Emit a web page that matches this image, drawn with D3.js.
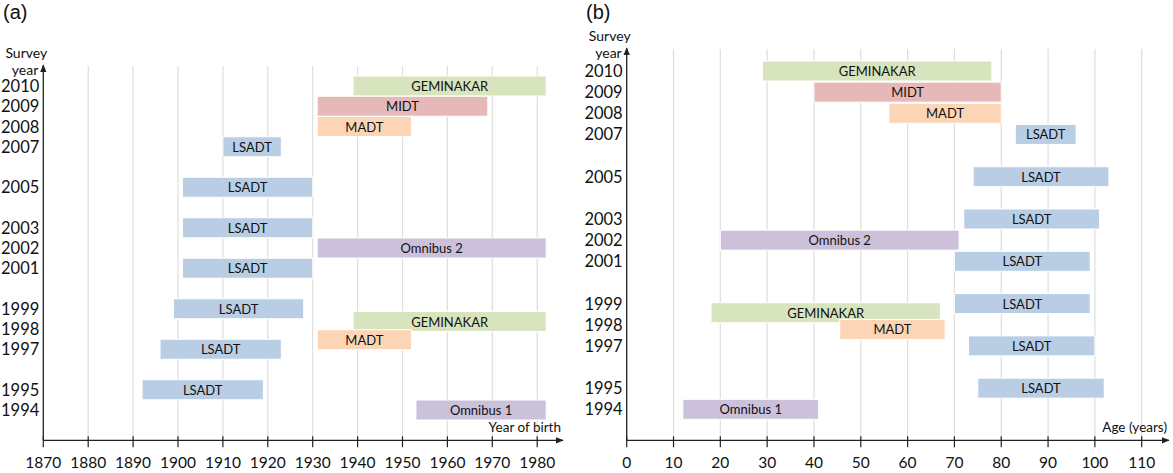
<!DOCTYPE html>
<html>
<head>
<meta charset="utf-8">
<script src="https://cdn.jsdelivr.net/npm/d3@7"></script>
<style>
  body { margin: 0; background: #fff; }
  svg text { font-family: Lato, "Open Sans", sans-serif; fill: #111; }
</style>
</head>
<body>
<div class="chart"></div>
<script>
// survey bars, one entry per bar
var surveys    = ["GEMINAKAR", "MIDT", "MADT", "LSADT", "LSADT", "LSADT", "Omnibus 2", "LSADT", "LSADT", "GEMINAKAR", "MADT", "LSADT", "LSADT", "Omnibus 1"];
var surveyYear = [2010, 2009, 2008, 2007, 2005, 2003, 2002, 2001, 1999, 1998, 1997, 1997, 1995, 1994];
var birthFrom  = [1939, 1931, 1931, 1910, 1901, 1901, 1931, 1901, 1899, 1939, 1931, 1896, 1892, 1953];
var birthTo    = [1982, 1969, 1952, 1923, 1930, 1930, 1982, 1930, 1928, 1982, 1952, 1923, 1919, 1982];
var ageFrom    = [29, 40, 56, 83, 74, 72, 20, 70, 70, 18, 45.5, 73, 75, 12];
var ageTo      = [78, 80, 80, 96, 103, 101, 71, 99, 99, 67, 68, 100, 102, 41];

var yearTicks  = [1994, 1995, 1997, 1998, 1999, 2001, 2002, 2003, 2005, 2007, 2008, 2009, 2010];
var birthTicks = [1870, 1880, 1890, 1900, 1910, 1920, 1930, 1940, 1950, 1960, 1970, 1980];
var ageTicks   = [0, 10, 20, 30, 40, 50, 60, 70, 80, 90, 100, 110];

var colors = {
  "LSADT": "#b9cde4",
  "GEMINAKAR": "#d7e4bd",
  "MIDT": "#e6b9b8",
  "MADT": "#fbd5b5",
  "Omnibus 1": "#ccc1da",
  "Omnibus 2": "#ccc1da"
};

var svg = d3.select(".chart").append("svg")
            .attr("width", 1173)
            .attr("height", 473);

var defs = svg.append("defs");
defs.append("marker")
    .attr("id", "arrow")
    .attr("viewBox", "0 0 10 10")
    .attr("refX", 9).attr("refY", 5)
    .attr("markerWidth", 6).attr("markerHeight", 6)
    .attr("orient", "auto-start-reverse")
    .append("path")
    .attr("d", "M0,1 L10,5 L0,9 z")
    .attr("fill", "#222");

var rows = surveys.map(function(s, i){
  return { name: s, year: surveyYear[i], b0: birthFrom[i], b1: birthTo[i], a0: ageFrom[i], a1: ageTo[i] };
});

function panel(opt){
  var g = svg.append("g");
  var x = d3.scaleLinear().domain(opt.xDomain).range(opt.xRange);
  var y = d3.scaleLinear().domain([1994, 2010]).range(opt.yRange);
  var x0 = opt.xRange[0], base = 440.3;

  // grid
  g.selectAll("line.grid").data(opt.ticks.slice(1)).enter()
   .append("line")
   .attr("x1", function(d){ return x(d); }).attr("x2", function(d){ return x(d); })
   .attr("y1", opt.top).attr("y2", base)
   .attr("stroke", "#dedede").attr("stroke-width", 1.2);

  // bars
  var bars = g.selectAll("g.bar").data(rows).enter().append("g");
  bars.append("rect")
      .attr("x", function(d){ return x(d[opt.k0]); })
      .attr("y", function(d, i){ return y(d.year) - 10 + (opt.nudge[i] || 0); })
      .attr("width", function(d){ return x(d[opt.k1]) - x(d[opt.k0]); })
      .attr("height", 20)
      .attr("fill", function(d){ return colors[d.name]; })
      .attr("stroke", "#fff").attr("stroke-width", 1);
  bars.append("text")
      .attr("x", function(d){ return (x(d[opt.k0]) + x(d[opt.k1])) / 2; })
      .attr("y", function(d, i){ return y(d.year) + 5 + (opt.nudge[i] || 0); })
      .attr("text-anchor", "middle")
      .attr("font-size", 13)
      .text(function(d){ return d.name; });

  // x axis
  g.append("line")
   .attr("x1", x0).attr("x2", opt.xEnd).attr("y1", base).attr("y2", base)
   .attr("stroke", "#222").attr("stroke-width", 1.3)
   .attr("marker-end", "url(#arrow)");
  g.selectAll("line.tick").data(opt.ticks).enter()
   .append("line")
   .attr("x1", function(d){ return x(d); }).attr("x2", function(d){ return x(d); })
   .attr("y1", base - 4).attr("y2", base + 7)
   .attr("stroke", "#222").attr("stroke-width", 1.2);
  g.selectAll("text.xt").data(opt.ticks).enter()
   .append("text")
   .attr("x", function(d){ return x(d); })
   .attr("y", 468)
   .attr("text-anchor", "middle")
   .attr("font-size", 15.5)
   .text(function(d){ return d; });
  g.append("text")
   .attr("x", opt.xEnd - 2).attr("y", base - 8)
   .attr("text-anchor", "end").attr("font-size", 13.5)
   .text(opt.xTitle);

  // y axis
  g.append("line")
   .attr("x1", x0).attr("x2", x0).attr("y1", base).attr("y2", opt.top - 1)
   .attr("stroke", "#222").attr("stroke-width", 1.3)
   .attr("marker-end", "url(#arrow)");
  g.selectAll("text.yt").data(yearTicks).enter()
   .append("text")
   .attr("x", x0 - 4)
   .attr("y", function(d){ return y(d) + 6; })
   .attr("text-anchor", "end")
   .attr("font-size", 16.5)
   .text(function(d){ return d; });
  g.append("text")
   .attr("x", x0 - 17).attr("y", opt.top - 8)
   .attr("text-anchor", "middle").attr("font-size", 14)
   .text("Survey");
  g.append("text")
   .attr("x", x0 - 5).attr("y", opt.top + 9)
   .attr("text-anchor", "end").attr("font-size", 14)
   .text("year");

  svg.append("text")
     .attr("x", opt.labelX).attr("y", 19)
     .style("font-family", "'Liberation Sans', Arial, sans-serif")
     .attr("font-size", 20)
     .text(opt.label);
}

panel({
  label: "(a)", labelX: 3,
  xDomain: [1870, 1980], xRange: [43.3, 537.2], xEnd: 563,
  yRange: [410, 86], top: 66,
  ticks: birthTicks, k0: "b0", k1: "b1",
  xTitle: "Year of birth",
  nudge: { 9: -7.5, 10: -9.5 }
});

panel({
  label: "(b)", labelX: 586,
  xDomain: [0, 110], xRange: [626.7, 1141.7], xEnd: 1169,
  yRange: [409.3, 71], top: 49,
  ticks: ageTicks, k0: "a0", k1: "a1",
  xTitle: "Age (years)",
  nudge: { 9: -12, 10: -16.5 }
});
</script>
</body>
</html>
